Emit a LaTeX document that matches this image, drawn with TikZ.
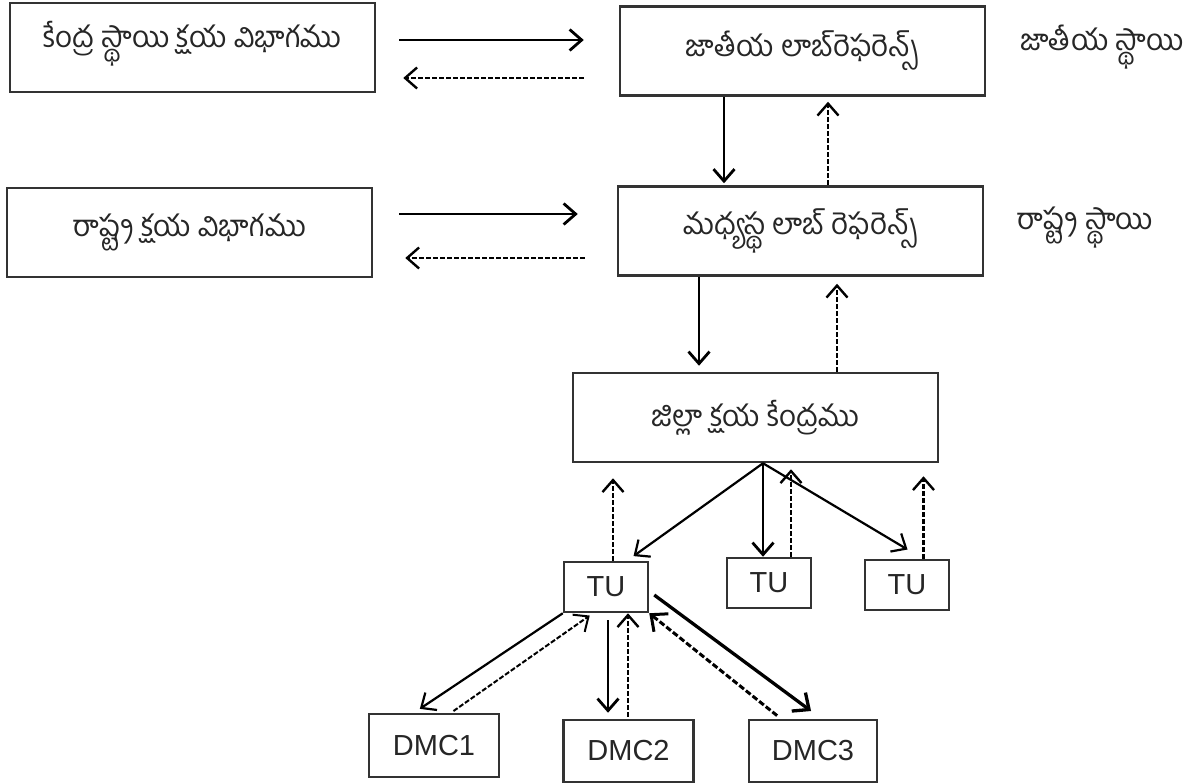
\documentclass[tikz,border=0pt]{standalone}
\usepackage{fontspec}
\setmainfont{Liberation Sans}
\newfontfamily\telugufont[Script=Telugu]{Hind Guntur}
\usetikzlibrary{arrows.meta}

\begin{document}
\begin{tikzpicture}[x=1pt, y=-1pt,
    bigbox/.style={draw=black!80, line width=2.5pt, minimum width=365pt, minimum height=89pt, inner sep=0pt, font=\telugufont\fontsize{29.5}{33}\selectfont, text=black!85},
    smallbox/.style={draw=black!80, line width=2.5pt, inner sep=0pt, font=\fontsize{29}{32}\selectfont, text=black!85},
    levelstyle/.style={font=\telugufont\fontsize{29.5}{33}\selectfont, text=black!85},
    sendarrow/.style={line width=2.8pt, -{Straight Barb[length=12pt,width=21pt]}},
    thinarrow/.style={line width=2.2pt, -{Straight Barb[length=12pt,width=21pt]}},
    thickarrow/.style={line width=3.3pt, -{Straight Barb[length=13pt,width=23pt]}},
    backarrow/.style={line width=2.4pt, dash pattern=on 5pt off 2pt, -{Straight Barb[length=12pt,width=21pt]}},
    thinback/.style={line width=2pt, dash pattern=on 5pt off 2pt, -{Straight Barb[length=12pt,width=21pt]}},
    thickback/.style={line width=3pt, dash pattern=on 6pt off 2.5pt, -{Straight Barb[length=13pt,width=23pt]}}]
    \useasboundingbox (0,0) rectangle (1193,783);

    % Offices on the left
    \node[bigbox] (kendra) at (192.5,47.5) {\raisebox{4pt}[\height][\depth]{కేంద్ర స్థాయి క్షయ విభాగము}};
    \node[bigbox] (rastra) at (189.5,232.5) {రాష్ట్ర క్షయ విభాగము};

    % Laboratory chain
    \node[bigbox] (jatiya) at (802.5,51) {జాతీయ లాబ్^^^^200cరెఫరెన్స్};
    \node[bigbox] (madhya) at (800.5,231) {మధ్యస్థ లాబ్ రెఫరెన్స్};
    \node[bigbox] (jilla) at (755.5,417.5) {జిల్లా క్షయ కేంద్రము};

    % Level names
    \node[levelstyle] (jlevel) at (1102,47) {జాతీయ స్థాయి};
    \node[levelstyle] (slevel) at (1085,228) {రాష్ట్ర స్థాయి};

    % Units and centres
    \node[smallbox, minimum width=84pt, minimum height=50pt] (tu1) at (606,587) {TU};
    \node[smallbox, minimum width=84pt, minimum height=50pt] (tu2) at (769,583) {TU};
    \node[smallbox, minimum width=84pt, minimum height=50pt] (tu3) at (907,585) {TU};
    \node[smallbox, minimum width=130pt, minimum height=63pt] (dmc1) at (434,745.5) {DMC1};
    \node[smallbox, minimum width=130pt, minimum height=62pt] (dmc2) at (628.5,751) {DMC2};
    \node[smallbox, minimum width=128pt, minimum height=62pt] (dmc3) at (813,751) {DMC3};

    % Arrows between the two columns
    \draw[sendarrow, shorten <=23pt, shorten >=35pt] ([yshift=7.5pt]kendra.east) -- ([yshift=7.5pt]kendra.east -| jatiya.west);
    \draw[backarrow, shorten <=35pt, shorten >=27pt] ([yshift=-30.5pt]kendra.east -| jatiya.west) -- ([yshift=-30.5pt]kendra.east);
    \draw[sendarrow, shorten <=26pt, shorten >=39pt] ([yshift=18.5pt]rastra.east) -- ([yshift=18.5pt]rastra.east -| madhya.west);
    \draw[backarrow, shorten <=32pt, shorten >=32pt] ([yshift=-25.5pt]rastra.east -| madhya.west) -- ([yshift=-25.5pt]rastra.east);

    % Down and up the laboratory chain
    \draw[sendarrow, shorten >=2pt] ([xshift=-78.5pt]jatiya.south) -- ([xshift=-78.5pt]jatiya.south |- madhya.north);
    \draw[backarrow, shorten >=5pt] ([xshift=27.5pt]madhya.north) -- ([xshift=27.5pt]madhya.north |- jatiya.south);
    \draw[sendarrow, shorten >=6pt] ([xshift=-101.5pt]madhya.south) -- ([xshift=-101.5pt]madhya.south |- jilla.north);
    \draw[backarrow, shorten >=7pt] ([xshift=81.5pt]jilla.north) -- ([xshift=81.5pt]jilla.north |- madhya.south);

    % District centre and its TUs
    \coordinate (fork) at ([xshift=7.5pt]jilla.south);
    \draw[thinarrow, shorten >=8pt] (fork) -- ([xshift=21pt]tu1.north);
    \draw[sendarrow] (fork) -- (fork |- tu2.north);
    \draw[thinarrow, shorten >=18pt] (fork) -- ([xshift=16pt]tu3.north);
    \draw[backarrow, shorten >=15pt] ([xshift=7pt]tu1.north) -- ([xshift=7pt]tu1.north |- jilla.south);
    \draw[backarrow, shorten >=6pt] ([xshift=22pt]tu2.north) -- ([xshift=22pt]tu2.north |- jilla.south);
    \draw[backarrow, shorten >=13pt] ([xshift=16.5pt]tu3.north) -- ([xshift=16.5pt]tu3.north |- jilla.south);

    % TU and its DMCs
    \draw[thinarrow, shorten >=7pt] (tu1.south west) -- ([xshift=-20pt]dmc1.north);
    \draw[thinback, shorten <=3pt, shorten >=4pt] ([xshift=17pt]dmc1.north) -- ([xshift=-13pt]tu1.south);
    \draw[sendarrow, shorten <=7pt, shorten >=6pt] ([xshift=2pt]tu1.south) -- ([xshift=2pt]tu1.south |- dmc2.north);
    \draw[backarrow, shorten <=2pt] ([xshift=22pt]tu1.south |- dmc2.north) -- ([xshift=22pt]tu1.south);
    \draw[thickarrow, shorten >=13pt] ([xshift=5pt,yshift=-8pt]tu1.east) -- ([xshift=8.5pt]dmc3.north);
    \draw[thickback, shorten <=5pt] ([xshift=-32pt]dmc3.north) -- (tu1.south east);
\end{tikzpicture}
\end{document}
